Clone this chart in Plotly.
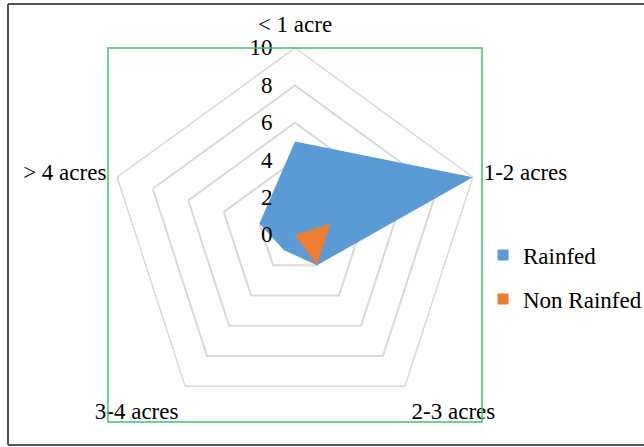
import plotly.graph_objects as go

categories = ["< 1 acre", "1-2 acres", "2-3 acres", "3-4 acres", "> 4 acres"]
rainfed = [5, 10, 2, 1, 2]
non_rainfed = [0, 2, 2, 0, 0]
radial_ticks = [0, 2, 4, 6, 8, 10]
series_names = ["Rainfed", "Non Rainfed"]
series_colors = ["#5b9bd5", "#ed7d31"]

FONT = "Liberation Serif"
FS = 23

def closed(v):
    return list(v) + [v[0]]

fig = go.Figure()
for name, vals, col, grp in zip(series_names, [rainfed, non_rainfed], series_colors, ["a", "b"]):
    fig.add_trace(go.Scatterpolar(
        r=closed(vals), theta=closed(categories), name=name,
        mode="lines", line=dict(width=0, color=col),
        fill="toself", fillcolor=col, showlegend=False, legendgroup=grp))
for name, col, grp in zip(series_names, series_colors, ["a", "b"]):
    fig.add_trace(go.Scatterpolar(
        r=[None], theta=[categories[0]], name=name, mode="markers",
        marker=dict(symbol="square", size=11, color=col),
        legendgroup=grp, showlegend=True))

dx0, dx1 = 108/644, 482/644
dy0, dy1 = 25/447, 399/447
bx0, by0, by1 = 8/644, 2/447, 443/447
border = dict(color="#555555", width=2)

fig.update_layout(
    width=644, height=447,
    margin=dict(l=0, r=0, t=0, b=0, autoexpand=False),
    paper_bgcolor="white",
    font=dict(family=FONT, size=FS, color="#000000"),
    polar=dict(
        domain=dict(x=[dx0, dx1], y=[dy0, dy1]),
        bgcolor="rgba(0,0,0,0)",
        gridshape="linear",
        radialaxis=dict(range=[0, 10], tickvals=radial_ticks, angle=90,
                        side="counterclockwise", tickangle=90,
                        showline=False, ticks="outside", ticklen=14,
                        tickcolor="rgba(0,0,0,0)", gridcolor="#d9d9d9",
                        gridwidth=1.5, tickfont=dict(family=FONT, size=FS)),
        angularaxis=dict(rotation=90, direction="clockwise", showgrid=False,
                         linecolor="#d9d9d9", linewidth=1.5, ticks="outside",
                         ticklen=6, tickcolor="rgba(0,0,0,0)",
                         tickfont=dict(family=FONT, size=FS)),
    ),
    legend=dict(x=0.75, y=0.38, xanchor="left", yanchor="middle",
                font=dict(family=FONT, size=FS), tracegroupgap=11,
                bgcolor="rgba(0,0,0,0)"),
    shapes=[
        dict(type="rect", xref="paper", yref="paper", x0=dx0, x1=dx1, y0=dy0, y1=dy1,
             line=dict(color="#3dc36b", width=1.5)),
        dict(type="line", xref="paper", yref="paper", x0=bx0, x1=bx0, y0=by0, y1=by1, line=border),
        dict(type="line", xref="paper", yref="paper", x0=bx0, x1=1, y0=by0, y1=by0, line=border),
        dict(type="line", xref="paper", yref="paper", x0=bx0, x1=1, y0=by1, y1=by1, line=border),
    ],
)

fig.write_html("out.html")
